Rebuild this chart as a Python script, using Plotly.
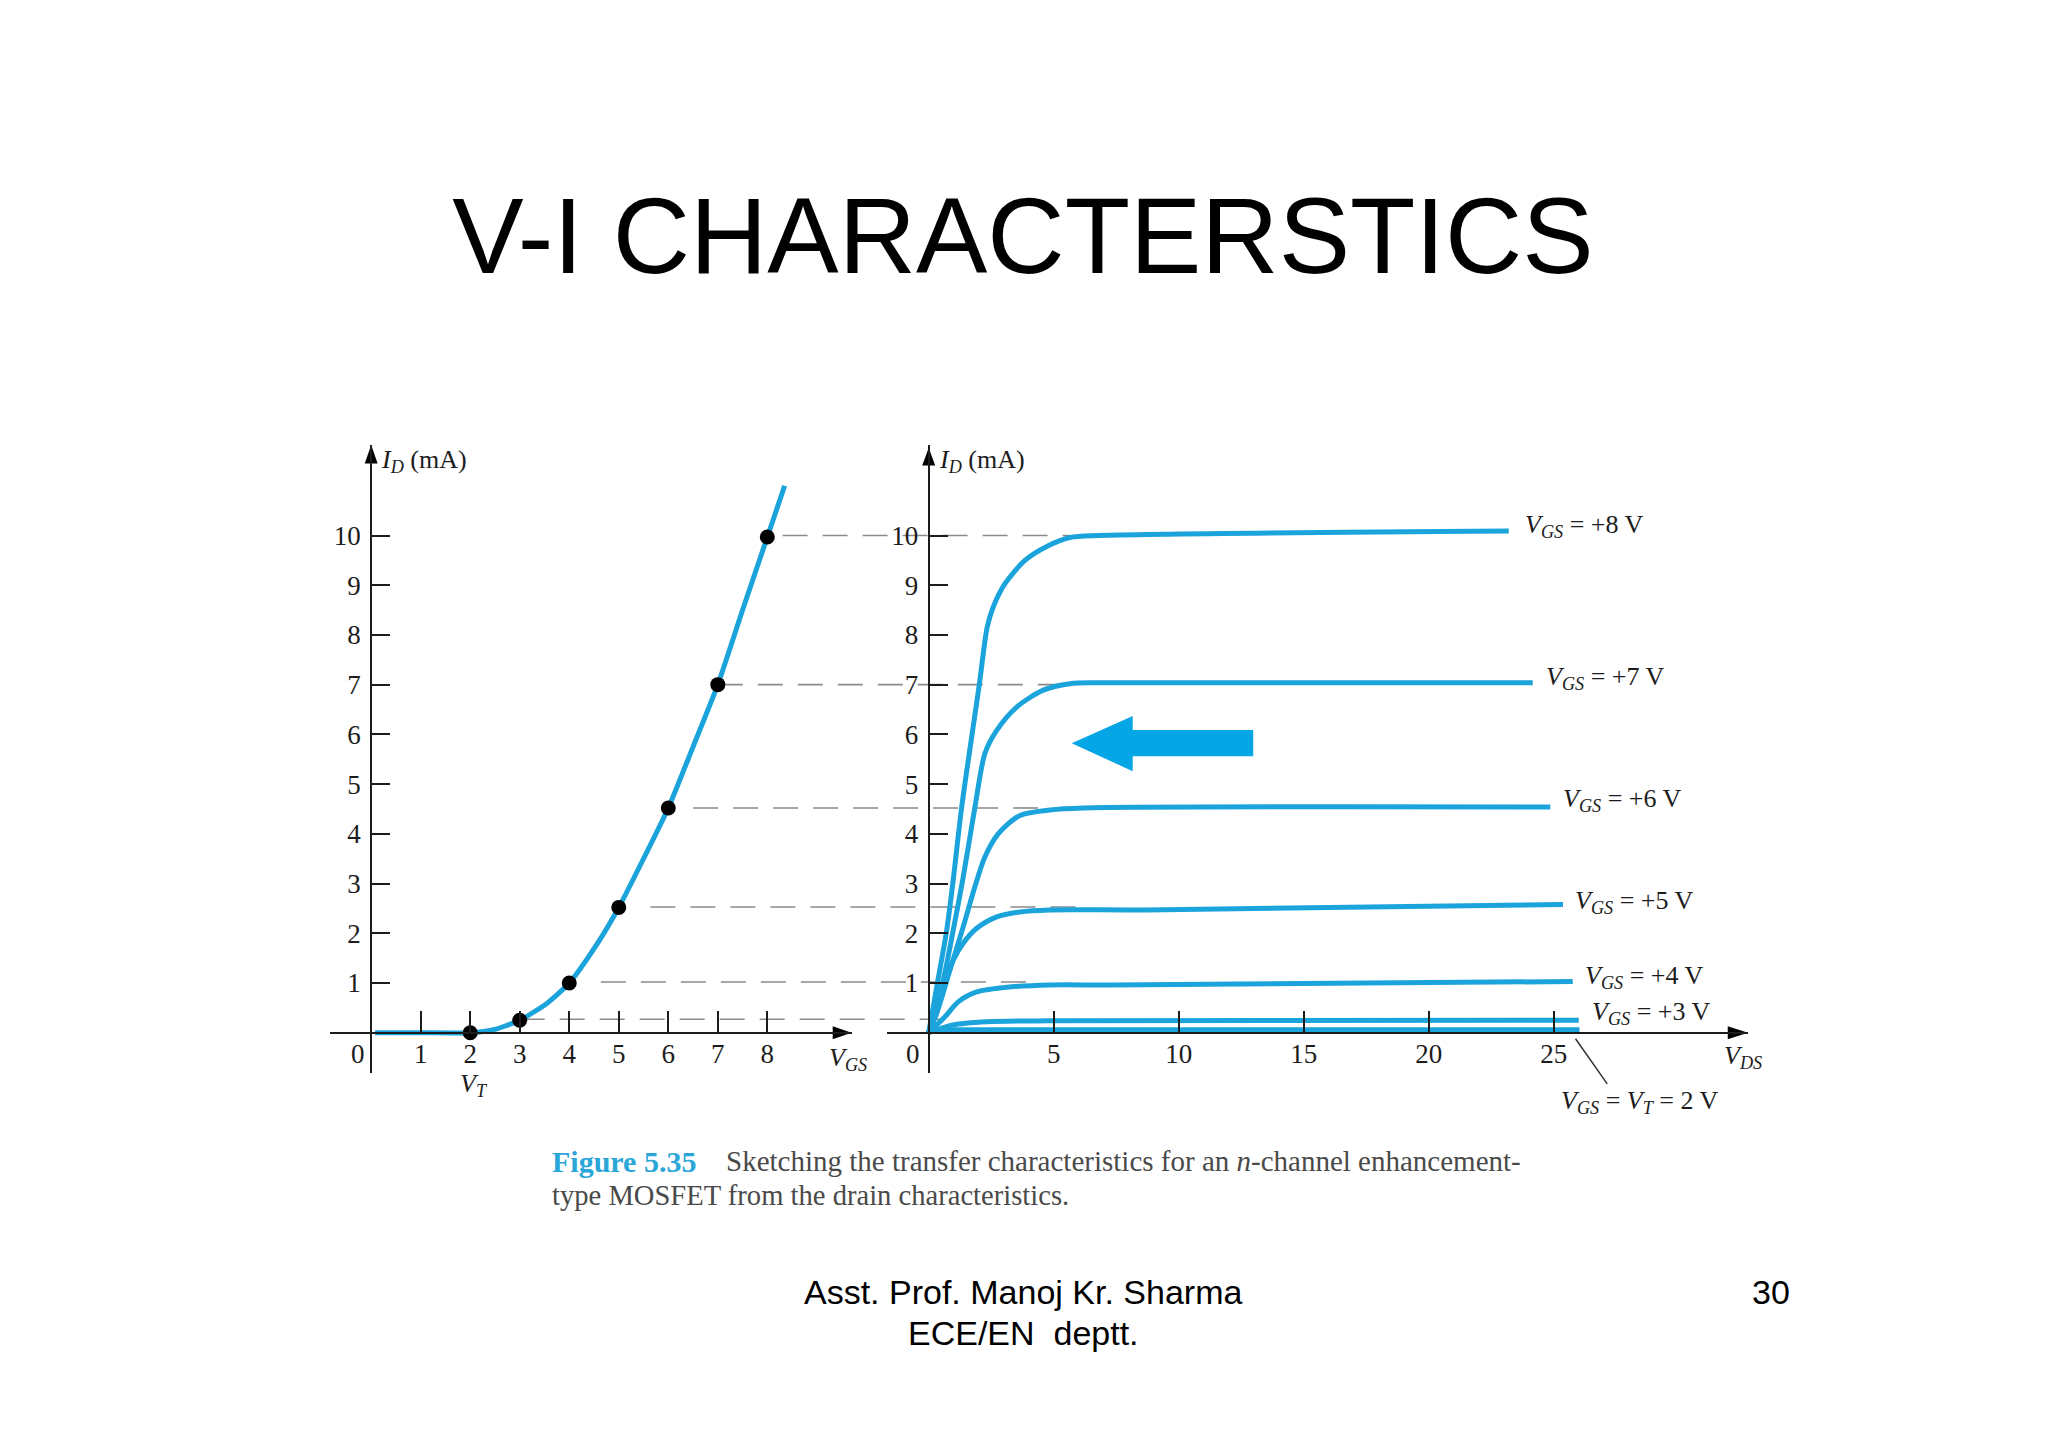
import plotly.graph_objects as go

BLUE = '#1ba3dc'
INK = '#1c1c1c'
SERIF = 'Liberation Serif'
SANS = 'Liberation Sans'
W, H = 2048, 1448

# transfer curve (left)
vgs_curve = [0.08, 1.0, 2.0, 2.47, 3.0, 3.56, 4.0, 4.52, 5.0, 5.5, 6.0, 6.5, 7.0, 7.5, 8.0, 8.35]
id_curve = [0.0, 0.0, 0.0, 0.06, 0.25, 0.6, 1.0, 1.72, 2.52, 3.5, 4.52, 5.75, 7.0, 8.5, 9.97, 11.0]
vgs_dots = [2, 3, 4, 5, 6, 7, 8]
id_dots = [0.0, 0.25, 1.0, 2.52, 4.52, 7.0, 9.97]

# drain curves (right)
vds_8 = [0, 0.37, 0.72, 0.98, 1.32, 2.02, 2.34, 2.58, 3.05, 3.85, 4.72, 5.65, 6.85, 23.2]
id_8 = [0, 1.06, 2.06, 3.07, 4.54, 6.99, 8.16, 8.56, 9.03, 9.5, 9.78, 9.96, 10.0, 10.09]
vds_7 = [0, 0.58, 0.98, 1.36, 1.85, 2.25, 2.72, 3.52, 4.58, 5.65, 6.85, 24.16]
id_7 = [0, 1.06, 2.06, 3.07, 4.54, 5.62, 6.08, 6.55, 6.89, 7.02, 7.04, 7.04]
vds_6 = [0, 0.32, 0.85, 1.38, 1.85, 2.25, 2.78, 3.65, 4.85, 6.2, 24.86]
id_6 = [0, 0.39, 1.26, 2.13, 2.94, 3.54, 4.0, 4.37, 4.48, 4.52, 4.54]
vds_5 = [0, 0.25, 0.58, 0.98, 1.38, 1.92, 2.72, 3.65, 4.85, 8.7, 25.37]
id_5 = [0, 0.32, 0.92, 1.46, 1.8, 2.1, 2.33, 2.43, 2.47, 2.47, 2.58]
vds_4 = [0, 0.65, 1.18, 1.92, 3.25, 4.85, 7.37, 25.76]
id_4 = [0, 0.32, 0.62, 0.82, 0.92, 0.96, 0.96, 1.03]
vds_3 = [0, 0.97, 2.32, 4.85, 26.0]
id_3 = [0, 0.155, 0.22, 0.24, 0.25]
vds_2 = [0, 26.03]
id_2 = [0.06, 0.06]
drain_curves = [(vds_8, id_8), (vds_7, id_7), (vds_6, id_6), (vds_5, id_5),
                (vds_4, id_4), (vds_3, id_3), (vds_2, id_2)]

# dashed projections run across both panels, in VGS units
dash_levels = [10.0, 7.0, 4.52, 2.53, 1.02, 0.27]
dash_start = [8.31, 7.0, 6.5, 5.64, 4.64, 3.0]
dash_end = [14.1, 13.91, 13.55, 14.32, 13.31, 11.69]

# big arrow and axis arrow heads
big_arrow_vds = [5.72, 8.16, 8.16, 12.98, 12.98, 8.16, 8.16, 5.72]
big_arrow_id = [5.82, 6.37, 6.09, 6.09, 5.56, 5.56, 5.26, 5.82]
left_up_x, left_up_y = [-0.13, 0, 0.13, -0.13], [11.45, 11.82, 11.45, 11.45]
left_right_x, left_right_y = [9.32, 9.7, 9.32, 9.32], [0.13, 0, -0.13, 0.13]
right_up_x, right_up_y = [-0.26, 0, 0.26, -0.26], [11.41, 11.76, 11.41, 11.41]
right_right_x, right_right_y = [31.96, 32.77, 31.96, 31.96], [0.13, 0, -0.13, 0.13]

left_xticks = [1, 2, 3, 4, 5, 6, 7, 8]
right_xticks = [5, 10, 15, 20, 25]
yticks = [1, 2, 3, 4, 5, 6, 7, 8, 9, 10]
vgs_labels = ['+8 V', '+7 V', '+6 V', '+5 V', '+4 V', '+3 V']


def px(x):
    return x / W


def py(y):
    return 1 - y / H


fig = go.Figure()

# dashes go first so the curves sit on top of them
for level, start, end in zip(dash_levels, dash_start, dash_end):
    fig.add_trace(go.Scatter(x=[start, end], y=[level, level], mode='lines', xaxis='x', yaxis='y',
                             line=dict(color='#8a8a8a', width=1.6, dash='25px,15px')))

# left panel
fig.add_trace(go.Scatter(x=vgs_curve, y=id_curve, mode='lines', xaxis='x2', yaxis='y2',
                         line=dict(color=BLUE, width=5, shape='spline', smoothing=0.6)))
fig.add_trace(go.Scatter(x=vgs_dots, y=id_dots, mode='markers', xaxis='x2', yaxis='y2', cliponaxis=False,
                         marker=dict(color='black', size=15)))

# right panel
for vds, ids in drain_curves:
    fig.add_trace(go.Scatter(x=vds, y=ids, mode='lines', xaxis='x3', yaxis='y3',
                             line=dict(color=BLUE, width=5, shape='spline', smoothing=0.8)))
fig.add_trace(go.Scatter(x=big_arrow_vds, y=big_arrow_id, mode='lines', fill='toself', xaxis='x3', yaxis='y3',
                         fillcolor='#05a6e6', line=dict(color='#05a6e6', width=0)))

# axis arrow heads
for ax, ay, xa, ya in [(left_up_x, left_up_y, 'x2', 'y2'), (left_right_x, left_right_y, 'x2', 'y2'),
                       (right_up_x, right_up_y, 'x3', 'y3'), (right_right_x, right_right_y, 'x3', 'y3')]:
    fig.add_trace(go.Scatter(x=ax, y=ay, mode='lines', fill='toself', xaxis=xa, yaxis=ya,
                             fillcolor='black', line=dict(color='black', width=0)))

tick_font = dict(family=SERIF, size=27, color=INK)
axis_style = dict(showgrid=False, zeroline=False, showline=True, linecolor=INK, linewidth=2,
                  ticks='inside', tickcolor=INK, tickwidth=2, tickfont=tick_font, anchor='free')
y_domain = [py(1073), py(445)]
y_range = [-0.81, 11.82]
axis_y = py(1032.7)

fig.update_layout(
    width=W, height=H,
    margin=dict(l=0, r=0, t=0, b=0),
    paper_bgcolor='white', plot_bgcolor='rgba(0,0,0,0)',
    showlegend=False,
    title=dict(text='V-I CHARACTERSTICS', x=px(1023), y=py(236), xanchor='center', yanchor='middle',
               font=dict(family=SANS, size=107, color='black')),
    xaxis=dict(domain=[px(330), px(1748)], range=[-0.832, 27.81], visible=False),
    yaxis=dict(domain=y_domain, range=y_range, visible=False),
    xaxis2=dict(domain=[px(330), px(851.5)], range=[-0.832, 9.7], position=axis_y,
                tickvals=left_xticks, ticklen=21, ticklabelstandoff=-3, **axis_style),
    yaxis2=dict(domain=y_domain, range=y_range, position=px(371.2),
                tickvals=yticks, ticklen=18, ticklabelstandoff=4, **axis_style),
    xaxis3=dict(domain=[px(887), px(1748)], range=[-1.668, 32.77], position=axis_y,
                tickvals=right_xticks, ticklen=21, ticklabelstandoff=-3, **axis_style),
    yaxis3=dict(domain=y_domain, range=y_range, position=px(928.7),
                tickvals=yticks, ticklen=18, ticklabelstandoff=4, **axis_style),
)


def note(text, x, y, size=26, color=INK, anchor='left', family=SERIF):
    fig.add_annotation(text=text, x=px(x), y=py(y), xref='paper', yref='paper', showarrow=False,
                       xanchor=anchor, yanchor='middle', align=anchor,
                       font=dict(family=family, size=size, color=color))


# axis names
note('<i>I<sub>D</sub></i> (mA)', 379, 461)
note('<i>I<sub>D</sub></i> (mA)', 937, 461)
note('<i>V<sub>GS</sub></i>', 827, 1059)
note('<i>V<sub>T</sub></i>', 458, 1085)
note('<i>V<sub>DS</sub></i>', 1722, 1057)
note('0', 358, 1054, size=27, anchor='center')
note('0', 913, 1054, size=27, anchor='center')

# curve labels
for label, x, y in zip(vgs_labels, [1523, 1544, 1561, 1573, 1583, 1590], [526, 678, 800, 902, 977, 1013]):
    note(f'<i>V<sub>GS</sub></i> = {label}', x, y)
note('<i>V<sub>GS</sub></i> = <i>V<sub>T</sub></i> = 2 V', 1559, 1102)

# leader to the VT curve
fig.add_annotation(x=27.14, y=-1.03, ax=25.83, ay=-0.09, xref='x3', yref='y3', axref='x3', ayref='y3',
                   text='', showarrow=True, arrowhead=0, arrowwidth=1.5, arrowcolor='#333333')

# caption
note('<b>Figure 5.35</b>', 550, 1161, size=30, color='#2aa6d8')
note('Sketching the transfer characteristics for an <i>n</i>-channel enhancement-', 724, 1161, size=29, color='#4a4a4a')
note('type MOSFET from the drain characteristics.', 550, 1195, size=28.6, color='#4a4a4a')

# slide footer
note('Asst. Prof. Manoj Kr. Sharma', 1023, 1292, size=34, color='black', anchor='center', family=SANS)
note('ECE/EN  deptt.', 1023, 1333, size=34, color='black', anchor='center', family=SANS)
note('30', 1771, 1292, size=34, color='black', anchor='center', family=SANS)

fig.write_html('out.html', config={'displayModeBar': False}, post_script="document.body.style.margin='0';")
